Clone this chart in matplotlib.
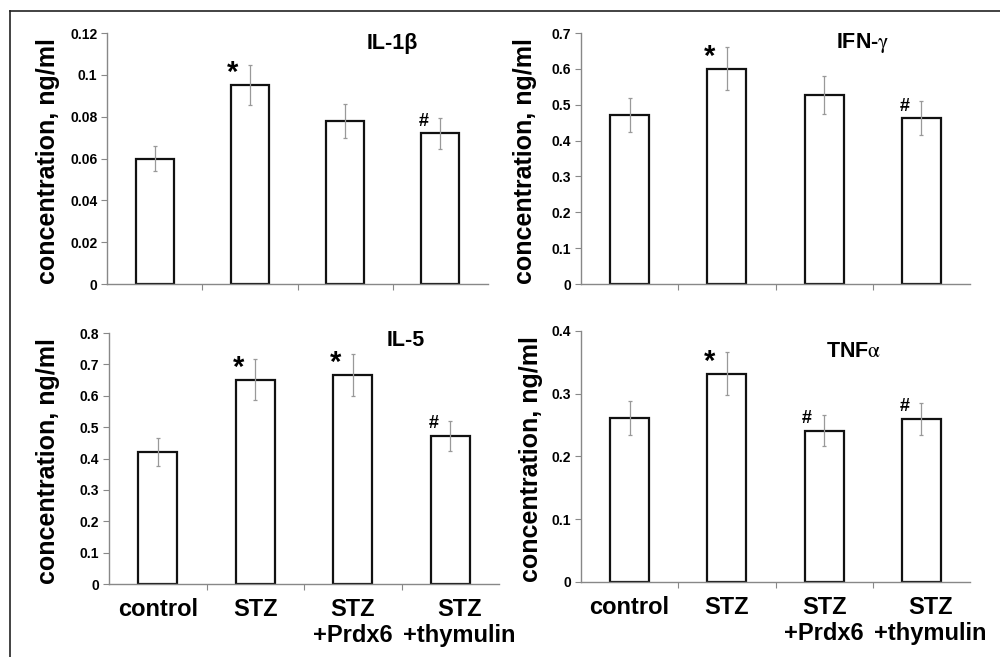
import numpy as np
import matplotlib
matplotlib.use('Agg')
import matplotlib.pyplot as plt
from matplotlib.lines import Line2D
from matplotlib.ticker import FuncFormatter, FixedLocator
from matplotlib.transforms import ScaledTranslation

plt.rcParams['font.family'] = ['Liberation Sans', 'DejaVu Sans']
plt.rcParams['mathtext.fontset'] = 'stix'

# Data
groups = ['control', 'STZ', 'STZ\n+Prdx6', 'STZ\n+thymulin']

il1b = [0.060, 0.095, 0.078, 0.072]
il1b_err = [0.0061, 0.0095, 0.0080, 0.0074]

ifng = [0.472, 0.600, 0.528, 0.463]
ifng_err = [0.048, 0.060, 0.053, 0.047]

il5 = [0.420, 0.651, 0.666, 0.472]
il5_err = [0.044, 0.065, 0.067, 0.047]

tnfa = [0.261, 0.332, 0.241, 0.260]
tnfa_err = [0.027, 0.034, 0.025, 0.026]

titles = ['IL-1β', 'IFN-$\\mathrm{\\gamma}$', 'IL-5', 'TNF$\\mathrm{\\alpha}$']
ymax = [0.12, 0.7, 0.8, 0.4]
ystep = [0.02, 0.1, 0.1, 0.1]
# significance marks per bar: '*' vs control, '#' vs STZ
marks = [['', '*', '', '#'],
         ['', '*', '', '#'],
         ['', '*', '*', '#'],
         ['', '*', '#', '#']]

values = [il1b, ifng, il5, tnfa]
errors = [il1b_err, ifng_err, il5_err, tnfa_err]

fig = plt.figure(figsize=(10, 6.57), dpi=100)

positions = [[0.107, 0.5677, 0.381, 0.382],
             [0.581, 0.5677, 0.389, 0.382],
             [0.109, 0.1111, 0.390, 0.382],
             [0.581, 0.1142, 0.389, 0.382]]
label_x = [-0.123, -0.114, -0.126, -0.098]
title_pos = [(0.75, 0.96), (0.725, 0.96), (0.76, 0.97), (0.70, 0.92)]

x = np.arange(len(groups))
for i in range(4):
    ax = fig.add_axes(positions[i])
    ax.bar(x, values[i], width=0.4, color='white', edgecolor='#111111', linewidth=1.6, zorder=2)
    ax.errorbar(x, values[i], yerr=errors[i], fmt='none', ecolor='#999999',
                elinewidth=0.9, capsize=1.5, capthick=0.9, zorder=3)
    ax.set_xlim(-0.5, 3.5)
    ax.set_ylim(0, ymax[i])
    ax.set_yticks(np.arange(0, ymax[i] + ystep[i] / 2, ystep[i]))
    ax.yaxis.set_major_formatter(FuncFormatter(lambda v, p: '%g' % round(v, 3)))
    for s in ['top', 'right']:
        ax.spines[s].set_visible(False)
    for s in ['left', 'bottom']:
        ax.spines[s].set_color('#888888')
        ax.spines[s].set_linewidth(1.0)
    ax.tick_params(axis='y', length=4, width=0.8, color='#888888', labelsize=10, pad=3)
    for t in ax.get_yticklabels():
        t.set_fontweight('bold')
    ax.set_xticks(x)
    ax.xaxis.set_minor_locator(FixedLocator([0.5, 1.5, 2.5]))
    ax.tick_params(axis='x', which='major', length=0, pad=10)
    ax.tick_params(axis='x', which='minor', length=4, width=0.8, color='#888888')
    if i >= 2:
        labels = ax.set_xticklabels(groups, fontsize=17, fontweight='bold', linespacing=1.15)
        # nudge the last label right so it does not collide with its neighbour
        labels[-1].set_transform(labels[-1].get_transform()
                                 + ScaledTranslation(9 / 100, 0, fig.dpi_scale_trans))
    else:
        ax.set_xticklabels([])
    ax.set_ylabel('concentration, ng/ml', fontsize=18, fontweight='bold')
    ax.yaxis.set_label_coords(label_x[i], 0.49)
    ax.text(title_pos[i][0], title_pos[i][1], titles[i], transform=ax.transAxes,
            ha='center', va='center', fontsize=15.5, fontweight='bold')
    for j, m in enumerate(marks[i]):
        if m:
            ax.annotate(m, (x[j], values[i][j]), xytext=(-17, 12), textcoords='offset pixels',
                        ha='center', va='center', fontsize=21 if m == '*' else 13,
                        fontweight='bold')

# outer frame lines (top and left)
fig.add_artist(Line2D([0.010, 1.0], [1 - 11 / 657, 1 - 11 / 657], color='#222222', lw=1.2))
fig.add_artist(Line2D([0.010, 0.010], [0.0, 1 - 11 / 657], color='#222222', lw=1.2))

fig.savefig('out.png', dpi=100)
